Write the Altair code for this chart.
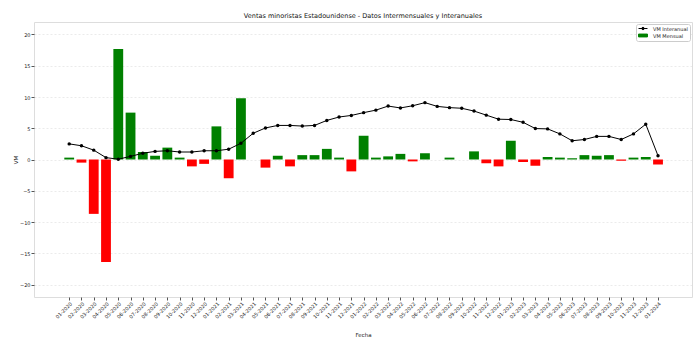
import altair as alt
import pandas as pd

fechas = [
    "01-2020", "02-2020", "03-2020", "04-2020", "05-2020", "06-2020", "07-2020", "08-2020",
    "09-2020", "10-2020", "11-2020", "12-2020", "01-2021", "02-2021", "03-2021", "04-2021",
    "05-2021", "06-2021", "07-2021", "08-2021", "09-2021", "10-2021", "11-2021", "12-2021",
    "01-2022", "02-2022", "03-2022", "04-2022", "05-2022", "06-2022", "07-2022", "08-2022",
    "09-2022", "10-2022", "11-2022", "12-2022", "01-2023", "02-2023", "03-2023", "04-2023",
    "05-2023", "06-2023", "07-2023", "08-2023", "09-2023", "10-2023", "11-2023", "12-2023",
    "01-2024",
]

vm_mensual = [
    0.3, -0.5, -8.7, -16.4, 17.7, 7.5, 1.2, 0.6, 1.9, 0.3, -1.1, -0.7,
    5.3, -3.0, 9.8, 0.0, -1.3, 0.6, -1.1, 0.7, 0.7, 1.7, 0.3, -1.9,
    3.8, 0.3, 0.5, 0.9, -0.3, 1.0, 0.0, 0.3, 0.0, 1.3, -0.6, -1.1,
    3.0, -0.4, -1.0, 0.4, 0.3, 0.2, 0.7, 0.6, 0.7, -0.2, 0.3, 0.4,
    -0.8,
]

vm_interanual = [
    2.5, 2.2, 1.5, 0.3, 0.05, 0.5, 1.0, 1.3, 1.4, 1.2, 1.2, 1.4,
    1.4, 1.65, 2.6, 4.2, 5.05, 5.45, 5.45, 5.35, 5.45, 6.25, 6.8, 7.05,
    7.5, 7.9, 8.55, 8.25, 8.6, 9.1, 8.5, 8.3, 8.2, 7.75, 7.1, 6.45,
    6.4, 5.95, 4.95, 4.9, 4.1, 3.0, 3.2, 3.7, 3.7, 3.2, 4.1, 5.65,
    0.6,
]

y_ticks = [-20, -15, -10, -5, 0, 5, 10, 15, 20]
series = ["VM Interanual", "VM Mensual"]
titulo = "Ventas minoristas Estadounidense - Datos Intermensuales y Interanuales"

idx = list(range(len(fechas)))
df = pd.DataFrame({"idx": idx, "fecha": fechas, "mensual": vm_mensual, "interanual": vm_interanual})

FONT = "DejaVu Sans"
label_expr = "[" + ",".join(f"'{f}'" for f in fechas) + "][datum.value]"

x_scale = alt.Scale(domain=[-2.87, 50.77], nice=False, zero=False)
y_scale = alt.Scale(domain=[-22, 22], nice=False, zero=False)

x_axis = alt.Axis(
    values=idx, labelExpr=label_expr, labelAngle=-45, labelAlign="right",
    labelBaseline="top", labelFontSize=5, labelPadding=1, labelColor="#222",
    labelFont=FONT, tickSize=3, tickColor="#555", domain=False, grid=False,
    labelOverlap=False, labelBound=False,
    title="Fecha", titleFontSize=5.5, titleFontWeight="normal", titleFont=FONT,
    titleColor="#222", titleY=37, titleBaseline="middle",
)
y_axis = alt.Axis(
    values=y_ticks, grid=True, gridDash=[2, 2], gridColor="#dddddd", gridWidth=0.6,
    labelFontSize=5, labelPadding=1, labelColor="#222", labelFont=FONT,
    tickSize=3, tickColor="#555", domain=False,
    title="VM", titleFontSize=5.5, titleFontWeight="normal", titleFont=FONT,
    titleColor="#222", titleX=-19, titleY=137.5, titleBaseline="middle", titleAngle=270,
)

base = alt.Chart(df)

bars = base.transform_calculate(
    x0="datum.idx - 0.4", x1="datum.idx + 0.4"
).mark_bar().encode(
    x=alt.X("x0:Q", scale=x_scale, axis=x_axis),
    x2="x1:Q",
    y=alt.Y("mensual:Q", scale=y_scale, axis=y_axis),
    y2=alt.datum(0),
    color=alt.condition("datum.mensual >= 0", alt.value("green"), alt.value("red")),
)

line = base.mark_line(color="black", strokeWidth=1).encode(
    x=alt.X("idx:Q", scale=x_scale, axis=x_axis),
    y=alt.Y("interanual:Q", scale=y_scale, axis=y_axis),
)

points = base.mark_point(filled=True, color="black", size=12, opacity=1).encode(
    x=alt.X("idx:Q", scale=x_scale, axis=x_axis),
    y=alt.Y("interanual:Q", scale=y_scale, axis=y_axis),
)

path_line = "M-1,0H1M0.28,0A0.28,0.28,0,1,1,-0.28,0A0.28,0.28,0,1,1,0.28,0Z"
path_rect = "M-1,-0.32H1V0.32H-1Z"

legend_def = alt.Legend(
    title=None, orient="top-right", offset=2, padding=2, fillColor="white",
    strokeColor="#cccccc", cornerRadius=2, labelFontSize=5, labelColor="#222",
    labelFont=FONT, symbolSize=80, symbolStrokeWidth=1, rowPadding=1,
    clipHeight=5, labelOffset=5, symbolOpacity=1,
)

legend_layer = base.transform_calculate(serie="'VM Interanual'").transform_filter(
    "datum.idx < 0"
).mark_point(filled=True, opacity=1, strokeWidth=1).encode(
    x=alt.X("idx:Q", scale=x_scale, axis=x_axis),
    y=alt.Y("interanual:Q", scale=y_scale, axis=y_axis),
    fill=alt.Fill("serie:N", scale=alt.Scale(domain=series, range=["black", "green"]), legend=legend_def),
    stroke=alt.Stroke("serie:N", scale=alt.Scale(domain=series, range=["black", "green"]), legend=legend_def),
    shape=alt.Shape("serie:N", scale=alt.Scale(domain=series, range=[path_line, path_rect]), legend=legend_def),
)

chart = alt.layer(bars, line, points, legend_layer).properties(
    width=658,
    height=275,
    autosize=alt.AutoSizeParams(type="none"),
    padding={"left": 34, "top": 22, "right": 8, "bottom": 56},
    title=alt.TitleParams(
        text=titulo, fontSize=6.5, fontWeight="normal", font=FONT, color="#111",
        offset=3, anchor="middle",
    ),
).configure_view(stroke="#888888", strokeWidth=1).configure(font=FONT)

chart.save("out.html", embed_options={"renderer": "svg", "actions": False})
